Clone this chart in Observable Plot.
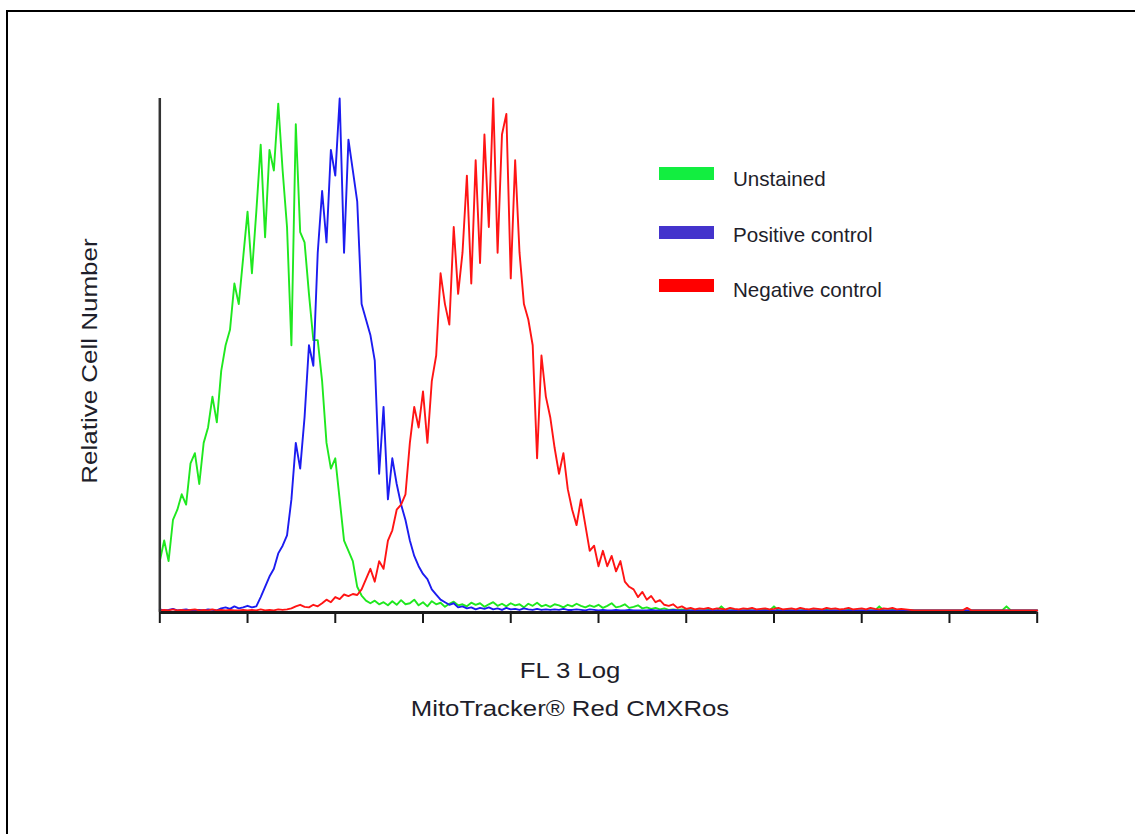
<!DOCTYPE html>
<html>
<head>
<meta charset="utf-8">
<script src="https://cdn.jsdelivr.net/npm/d3@7"></script>
<script src="https://cdn.jsdelivr.net/npm/@observablehq/plot@0.6"></script>
<style>
  html, body { margin: 0; padding: 0; background: #fff; }
  body { width: 1135px; height: 834px; overflow: hidden; position: relative;
         font-family: "Liberation Sans", Arial, sans-serif; color: #1e1e2a; }
  #frame { position: absolute; left: 6px; top: 10px; width: 1300px; height: 1000px;
           border-left: 2.5px solid #000; border-top: 2.5px solid #000; }
  #chart { position: absolute; left: 0; top: 0; }
  .atitle { position: absolute; width: 400px; text-align: center; font-size: 22px;
            line-height: 22px; white-space: nowrap; transform: scaleX(1.17); }
  .ytitle { position: absolute; left: -110px; top: 349px; width: 400px; text-align: center;
            font-size: 22px; line-height: 24px; white-space: nowrap;
            transform: rotate(-90deg) scaleX(1.18); }
  .lg-sw { position: absolute; left: 659px; width: 55px; height: 13px; }
  .lg-tx { position: absolute; left: 733px; font-size: 20.6px; line-height: 20.5px; white-space: nowrap; }
</style>
</head>
<body>
<div id="frame"></div>
<div id="chart"></div>
<div class="ytitle">Relative Cell Number</div>
<div class="atitle" id="xt1" style="left:370px;top:660px"></div>
<div class="atitle" id="xt2" style="left:370px;top:698px"></div>
<div id="legend"></div>
<script>
// ---- data ----
const binWidth = 5;                 // FL3 channel bin width
const xTicks = [0, 100, 200, 300, 400, 500, 600, 700, 800, 900, 1000];
const seriesNames = ["Unstained", "Positive control", "Negative control"];
const lineColors = ["#1fe81f", "#1c1cf0", "#ff1414"];
const legendColors = ["#12ee40", "#4433cc", "#ff0000"];
const xTitle = ["FL 3 Log", "MitoTracker\u00ae Red CMXRos"];

const unstained = [
  10,14,10,18,20,23,21,29,31,25,
  33,36,42,37,47,52,55,64,60,69,
  78,66,78,91,73,90,86,99,86,75,
  52,95,74,72,62,53,53,45,33,28,
  30,22,14,12,10,5,3.3,2.3,1.8,2.3,
  1.6,2.0,1.4,2.2,1.5,2.4,1.6,1.8,2.5,1.4,
  2.0,1.2,2.2,1.6,1.9,1.1,1.7,2.1,1.4,1.6,
  1.2,1.9,1.5,1.8,1.1,1.6,2.0,1.3,1.7,1.2,
  1.8,1.4,1.6,1.0,1.7,1.3,1.9,1.2,1.5,1.1,
  1.6,1.4,1.0,1.5,1.2,1.7,1.3,1.0,1.4,1.1,
  1.5,0.9,1.3,1.8,1.0,1.2,1.6,0.9,1.1,1.4,
  0.8,1.0,0.7,0.9,0.6,0.8,0.5,0.6,0.5,0.6,
  0.5,0.4,0.5,0.4,0.4,0.5,0.4,0.4,1.2,0.4,
  0.4,0.5,0.4,0.4,0.5,0.4,0.4,0.4,0.5,0.4,
  1.2,0.4,0.4,0.5,0.4,0.4,0.4,0.5,0.4,0.4,
  0.4,0.4,0.5,0.4,0.4,0.4,0.4,0.5,0.4,0.4,
  0.4,0.4,0.4,0.4,1.2,0.4,0.4,0.5,0.4,0.4,
  0.4,0.4,0.4,0.4,0.4,0.4,0.4,0.4,0.4,0.4,
  0.4,0.4,0.4,0.4,0.4,0.4,0.4,0.4,0.4,0.4,
  0.4,0.4,0.4,1.2,0.4,0.4,0.4,0.4,0.4,0.4,0.4
];
const positive = [
  0.6,0.4,0.5,0.7,0.4,0.5,0.6,0.4,0.5,0.5,
  0.4,0.6,0.5,0.4,0.8,1.0,0.7,1.2,0.8,1.0,
  1.3,1.0,1.2,3,5,7,8.5,11.5,13,15,
  22,33,28,38,52,48,70,82,72,90,
  85,100,70,92,86,80,60,57,54,49,
  27,40,22,30,25,21,18,14,11,9,
  7.5,6.5,4.5,3.5,2.5,2.0,1.5,1.8,1.0,1.2,
  0.8,1.0,0.6,0.9,0.7,1.0,0.6,0.8,0.5,0.9,
  0.6,0.7,0.5,0.8,0.6,0.5,0.7,0.5,0.6,0.5,
  0.6,0.5,0.7,0.5,0.5,0.6,0.5,0.4,0.6,0.5,
  0.4,0.5,0.4,0.4,0.5,0.4,0.4,0.5,0.4,0.4,
  0.4,0.4,0.5,0.4,0.4,0.4,0.4,0.5,0.4,0.4,
  0.4,0.4,0.4,0.4,0.4,0.4,0.4,0.4,0.4,0.4,
  0.4,0.4,0.4,0.4,0.4,0.4,0.4,0.4,0.4,0.4,
  0.4,0.4,0.4,0.4,0.4,0.4,0.4,0.4,0.4,0.4,
  0.4,0.4,0.4,0.4,0.4,0.4,0.4,0.4,0.4,0.4,
  0.4,0.4,0.4,0.4,0.4,0.4,0.4,0.4,0.4,0.4,
  0.4,0.4,0.4,0.4,0.4,0.4,0.4,0.4,0.4,0.4,
  0.4,0.4,0.4,0.4,0.4,0.4,0.4,0.4,0.4,0.4,
  0.4,0.4,0.4,0.4,0.4,0.4,0.4,0.4,0.4,0.4,0.4
];
const negative = [
  0.4,0.5,0.4,0.6,0.4,0.5,0.4,0.5,0.6,0.4,
  0.5,0.4,0.6,0.4,0.5,0.4,0.5,0.4,0.4,0.5,
  0.4,0.5,0.4,0.6,0.4,0.5,0.4,0.6,0.5,0.6,
  0.8,1.2,1.5,1.1,1.0,1.5,1.2,1.8,2.5,2.0,
  3.0,2.6,3.5,3.2,3.6,3.4,4.5,6.5,8.5,6.0,
  10,8.5,14,16,20,21,23,33,40,36,
  43,33,45,50,66,60,56,75,62,70,
  85,64,88,68,93,75,100,70,93,97,
  65,88,70,60,57,52,30,50,42,38,
  32,27,31,24,20,17,22,17,12,13,
  9,12,9,11,8,10,6,5,4.5,3,
  4,2.5,3.2,2,2.4,1.5,1.3,1.6,0.9,1.2,
  0.7,0.9,0.6,0.8,0.7,0.9,0.6,0.8,0.7,0.6,
  0.9,0.7,0.6,0.8,0.7,0.9,0.6,0.7,0.8,0.6,
  0.7,0.9,0.6,0.7,0.8,0.6,0.9,0.7,0.6,0.8,
  0.7,0.6,0.9,0.7,0.8,0.6,0.7,0.9,0.6,0.7,
  0.8,0.6,0.9,0.7,0.6,0.8,0.7,0.9,0.6,0.7,
  0.6,0.5,0.4,0.4,0.4,0.4,0.4,0.4,0.4,0.4,
  0.4,0.4,0.4,0.4,0.9,0.4,0.4,0.4,0.4,0.4,
  0.4,0.4,0.4,0.4,0.4,0.4,0.4,0.4,0.4,0.4,0.4
];

// ---- build table ----
const seriesValues = [unstained, positive, negative];
const rows = [];
seriesValues.forEach((vals, s) => {
  vals.forEach((v, i) => rows.push({series: seriesNames[s], channel: i * binWidth, count: v}));
});

const chart = Plot.plot({
  width: 1135,
  height: 834,
  marginLeft: 159.3,
  marginRight: 98.3,
  marginTop: 98,
  marginBottom: 222,
  x: {domain: [0, 1000]},
  y: {domain: [0, 100], axis: null},
  color: {domain: seriesNames, range: lineColors},
  marks: [
    ...seriesNames.map(name =>
      Plot.line(rows.filter(d => d.series === name), {
        x: "channel", y: "count", stroke: "series", strokeWidth: 1.9
      })
    ),
    Plot.ruleY([0], {stroke: "#1a1a1a", strokeWidth: 3}),
    Plot.ruleX([0], {stroke: "#333", strokeWidth: 2.5}),
    Plot.axisX(xTicks, {tickSize: 11, tickFormat: () => "", stroke: "#1a1a1a", strokeWidth: 2, label: null})
  ]
});
document.getElementById("chart").appendChild(chart);

document.getElementById("xt1").textContent = xTitle[0];
document.getElementById("xt2").textContent = xTitle[1];

// legend
const legendTops = [167, 226, 279];
const legendTextTops = [168.6, 224.6, 279.6];
const lg = document.getElementById("legend");
seriesNames.forEach((name, i) => {
  const sw = document.createElement("div");
  sw.className = "lg-sw";
  sw.style.top = legendTops[i] + "px";
  sw.style.background = legendColors[i];
  lg.appendChild(sw);
  const tx = document.createElement("div");
  tx.className = "lg-tx";
  tx.style.top = legendTextTops[i] + "px";
  tx.textContent = name;
  lg.appendChild(tx);
});
</script>
</body>
</html>
